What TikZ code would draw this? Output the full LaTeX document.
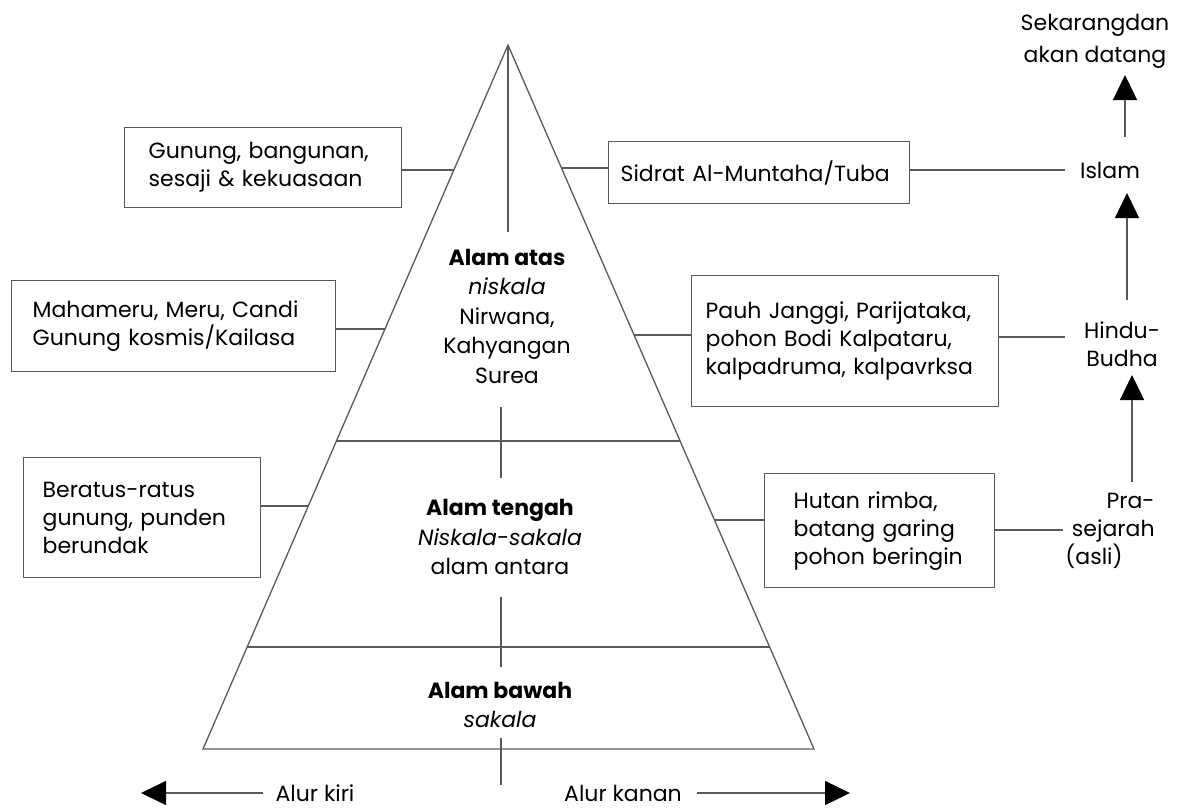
\documentclass[tikz,border=0pt]{standalone}
\usepackage{fontspec}
\setmainfont{Poppins}
\usetikzlibrary{arrows.meta,calc}
\newcommand\dgfont{\fontsize{22}{28}\selectfont}
\newcommand\dgfontc{\fontsize{22}{29.5}\selectfont}
\begin{document}
\begin{tikzpicture}[x=1pt,y=-1pt,
  ln/.style={draw=black!65, line width=1.3pt},
  arr/.style={ln, -{Triangle[length=25,width=24,black]}},
  box/.style={draw=black!65, line width=1.3pt, align=left, anchor=north west,
     inner ysep=0pt, font=\dgfont, text=black},
  txt/.style={font=\dgfont, text=black, inner sep=0pt},
  ctxt/.style={font=\dgfontc, text=black, align=center, inner sep=0pt}]
\useasboundingbox (0,0) rectangle (1183,807);
% pyramid
\coordinate (apex) at (508,45);
\coordinate (bl) at (203,749);
\coordinate (br) at (814,749);
\draw[ln, line join=miter] (apex) -- (bl) -- (br) -- cycle;
\path (apex) -- (bl) coordinate[pos=0.5625] (d1l) coordinate[pos=0.855] (d2l)
      coordinate[pos=0.1776] (eA) coordinate[pos=0.4034] (eB) coordinate[pos=0.6548] (eC);
\path (apex) -- (br) coordinate[pos=0.5625] (d1r) coordinate[pos=0.855] (d2r)
      coordinate[pos=0.1747] (eD) coordinate[pos=0.4119] (eE) coordinate[pos=0.6747] (eF);
\draw[ln] (d1l) -- (d1r);
\draw[ln] (d2l) -- (d2r);
% central texts
\node[ctxt] (atas) at (507,316) {\textbf{Alam atas}\\\textit{niskala}\\Nirwana,\\Kahyangan\\Surea};
\node[ctxt] (tengah) at (500,537) {\textbf{Alam tengah}\\\textit{Niskala-sakala}\\alam antara};
\node[ctxt] (bawah) at (500,705) {\textbf{Alam bawah}\\\textit{sakala}};
% central axis
\coordinate (ax1) at (508,232);
\coordinate (ax2) at (501,407);
\coordinate (ax3) at (501,478);
\coordinate (ax4) at (501,597);
\coordinate (ax5) at (501,667);
\coordinate (ax6) at (501,738);
\coordinate (ax7) at (501,785);
\draw[ln] (apex) -- (ax1);
\draw[ln] (ax2) -- (ax3);
\draw[ln] (ax4) -- (ax5);
\draw[ln] (ax6) -- (ax7);
% left boxes
\node[box, text width=229, inner xsep=24, minimum height=80] (bA) at (124,127)
  {Gunung, bangunan,\\sesaji \& kekuasaan};
\node[box, text width=282, inner xsep=21, minimum height=91] (bB) at (11,280)
  {Mahameru, Meru, Candi\\Gunung kosmis/Kailasa};
\node[box, text width=199, inner xsep=19, minimum height=120] (bC) at (23,457)
  {Beratus-ratus\\gunung, punden\\berundak};
\draw[ln] (eA) -- (eA -| bA.east);
\draw[ln] (eB) -- (eB -| bB.east);
\draw[ln] (eC) -- (eC -| bC.east);
% right boxes
\node[box, text width=277, inner xsep=12, minimum height=62] (bD) at (608,141)
  {Sidrat Al-Muntaha/Tuba};
\node[box, text width=279, inner xsep=14, minimum height=131] (bE) at (691,275)
  {Pauh Janggi, Parijataka,\\pohon Bodi Kalpataru,\\kalpadruma, kalpavrksa};
\node[box, text width=172, inner xsep=29, minimum height=114] (bF) at (764,473)
  {Hutan rimba,\\batang garing\\pohon beringin};
\draw[ln] (eD) -- (eD -| bD.west);
\draw[ln] (eE) -- (eE -| bE.west);
\draw[ln] (eF) -- (eF -| bF.west);
% right column
\node[txt, align=center, font=\fontsize{22}{32}\selectfont] (sek) at (1095,41) {Sekarangdan\\akan datang};
\node[txt] (islam) at (1110,170) {Islam};
\node[txt, align=center] (hindu) at (1122,344) {Hindu-\\Budha};
\node[txt, align=right] (pra) at (1110,531) {Pra-\\sejarah\\(asli)\hspace*{32pt}};
\coordinate (iL) at (1065,170);
\coordinate (hL) at (1065,337);
\coordinate (pL) at (1063,530);
\draw[ln] (iL -| bD.east) -- (iL);
\draw[ln] (hL -| bE.east) -- (hL);
\draw[ln] (pL -| bF.east) -- (pL);
\coordinate (a1s) at (1125,137); \coordinate (a1e) at (1125,75);
\coordinate (a2s) at (1127,300); \coordinate (a2e) at (1127,193);
\coordinate (a3s) at (1132,482); \coordinate (a3e) at (1132,375);
\draw[arr] (a1s) -- (a1e);
\draw[arr] (a2s) -- (a2e);
\draw[arr] (a3s) -- (a3e);
% bottom
\node[txt] (kiri) at (315,793) {Alur kiri};
\node[txt] (kanan) at (623,793) {Alur kanan};
\coordinate (kiriT) at (141,793);
\coordinate (kananT) at (850,793);
\draw[arr] (kiri.west) ++(-12,0) -- (kiriT);
\draw[arr] (kanan.east) ++(15,0) -- (kananT);
\end{tikzpicture}
\end{document}
